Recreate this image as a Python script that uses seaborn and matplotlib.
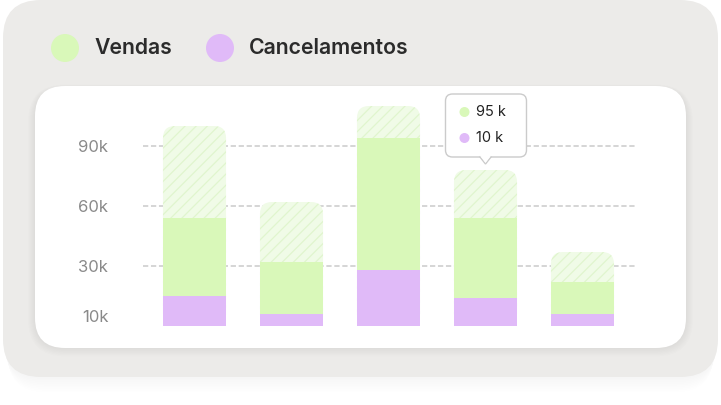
import matplotlib
matplotlib.use("Agg")
import matplotlib.pyplot as plt
from matplotlib.patches import FancyBboxPatch, Circle, Polygon
import seaborn as sns
import numpy as np
import pandas as pd

# data (thousands)
meses = ["1", "2", "3", "4", "5"]
cancelamentos = [15, 6, 28, 14, 6]
vendas_total = [54, 32, 94, 54, 22]
meta_total = [100, 62, 110, 78, 37]

y_ticks = [5, 30, 60, 90]
y_labels = ["10k", "30k", "60k", "90k"]
grid_vals = [30, 60, 90]

tooltip_bar = 3
tooltip_vals = ["95 k", "10 k"]
legend_names = ["Vendas", "Cancelamentos"]

GREEN = "#D9F8B9"
PURPLE = "#E0BAF8"
HATCH_BG = "#F0FBE7"
HATCH_LN = "#E0F5CE"
CARD_GREY = "#ECEBE9"

W, H = 721, 405
sns.set_theme(style="white")
plt.rcParams["font.family"] = ["Inter", "DejaVu Sans"]
plt.rcParams["hatch.linewidth"] = 0.9

fig = plt.figure(figsize=(W / 100, H / 100), dpi=100)
fig.patch.set_facecolor("white")

# background layer in pixel coords (y down)
bg = fig.add_axes([0, 0, 1, 1], zorder=0)
bg.set_xlim(0, W)
bg.set_ylim(H, 0)
bg.axis("off")


def rbox(a, x0, y0, x1, y1, r, **kw):
    p = FancyBboxPatch((x0, y0), x1 - x0, y1 - y0,
                       boxstyle=f"round,pad=0,rounding_size={r}", **kw)
    a.add_patch(p)
    return p


# outer card shadow
for i in range(10):
    rbox(bg, 3 + i * 0.5, 6 + i * 1.2, 718 - i * 0.5, 377 + i * 1.7, 38,
         facecolor="#000000", alpha=0.004, lw=0)
rbox(bg, 3, 0, 718, 377, 38, facecolor=CARD_GREY, lw=0)

# inner card shadow
for i in range(8):
    rbox(bg, 35 - i, 88 - i * 0.5, 686 + i, 348 + i * 1.2, 30 + i,
         facecolor="#000000", alpha=0.008, lw=0)
rbox(bg, 35, 86, 686, 348, 30, facecolor="white", lw=0)

# legend
leg_x = [65, 220]
for cx, col, name in zip(leg_x, [GREEN, PURPLE], legend_names):
    bg.add_patch(Circle((cx, 48), 14, facecolor=col, lw=0))
    bg.text(cx + 29, 48.5, name, fontsize=15.3, fontweight="semibold",
            color="#2B2B2B", va="center", ha="left")

# chart axes
x_lo, x_hi = -0.531, 4.562
y_lo, y_hi = -1.0, 113.0
ax_px = (143, 100, 637, 328)  # left, top, right, bottom
ax = fig.add_axes([ax_px[0] / W, 1 - ax_px[3] / H,
                   (ax_px[2] - ax_px[0]) / W, (ax_px[3] - ax_px[1]) / H],
                  zorder=1)
ax.patch.set_alpha(0)

df = pd.DataFrame({"mes": meses, "canc": cancelamentos,
                   "vendas": vendas_total, "meta": meta_total})

sns.barplot(data=df, x="mes", y="meta", color=HATCH_BG, width=0.65,
            saturation=1, ax=ax, zorder=2)
n_meta = len(ax.patches)
sns.barplot(data=df, x="mes", y="vendas", color=GREEN, width=0.65,
            saturation=1, ax=ax, zorder=3)
sns.barplot(data=df, x="mes", y="canc", color=PURPLE, width=0.65,
            saturation=1, ax=ax, zorder=4)

ax.set_xlim(x_lo, x_hi)
ax.set_ylim(y_lo, y_hi)

px_x = (ax_px[2] - ax_px[0]) / (x_hi - x_lo)
px_y = (ax_px[3] - ax_px[1]) / (y_hi - y_lo)
r_px = 12

# round the top of the hatched bars
for p in list(ax.patches[:n_meta]):
    x, y = p.get_x(), p.get_y()
    w, h = p.get_width(), p.get_height()
    p.remove()
    rr = r_px / px_x
    fb = FancyBboxPatch((x, y), w, h,
                        boxstyle=f"round,pad=0,rounding_size={rr}",
                        mutation_aspect=px_x / px_y,
                        facecolor=HATCH_BG, edgecolor=HATCH_LN, lw=0,
                        hatch="///", zorder=2)
    ax.add_patch(fb)
for p in ax.patches:
    if p.get_zorder() != 2:
        p.set_linewidth(0)

for g in grid_vals:
    ax.axhline(g, color="#D5D5D5", lw=1.4, ls=(0, (2.7, 1.4)), zorder=1)

ax.set_yticks(y_ticks)
ax.set_yticklabels(y_labels, fontsize=12, color="#8A8A8A")
ax.tick_params(axis="y", length=0, pad=25)
ax.set_xticks([])
ax.set_xlabel("")
ax.set_ylabel("")
sns.despine(ax=ax, left=True, bottom=True)
ax.grid(False)

# tooltip over bar 4, placed from the bar's top in pixel coords
fg = fig.add_axes([0, 0, 1, 1], zorder=5)
fg.set_xlim(0, W)
fg.set_ylim(H, 0)
fg.axis("off")
tx, ty = ax.transData.transform((tooltip_bar, meta_total[tooltip_bar]))
tx, ty = tx, H - ty
tip_y = ty - 6
bx0, bx1 = tx - 40, tx + 41
by0, by1 = tip_y - 70, tip_y - 7
rbox(fg, bx0, by0, bx1, by1, 7, facecolor="white", edgecolor="#CBCBCB", lw=1.0)
fg.add_patch(Polygon([(tx - 6, by1 - 0.6), (tx, tip_y), (tx + 6, by1 - 0.6)],
                     closed=False, facecolor="white", edgecolor="#CBCBCB", lw=1.0))
fg.add_patch(Polygon([(tx - 5.2, by1 - 1.2), (tx, tip_y - 1.2), (tx + 5.2, by1 - 1.2)],
                     closed=True, facecolor="white", lw=0))
for i, (col, val) in enumerate(zip([GREEN, PURPLE], tooltip_vals)):
    cy = by0 + 18 + i * 26
    fg.add_patch(Circle((bx0 + 19, cy), 5, facecolor=col, lw=0))
    fg.text(bx0 + 31, cy + 0.5, val, fontsize=10.5, color="#222222",
            va="center", ha="left")

fig.savefig("out.png", dpi=100)
